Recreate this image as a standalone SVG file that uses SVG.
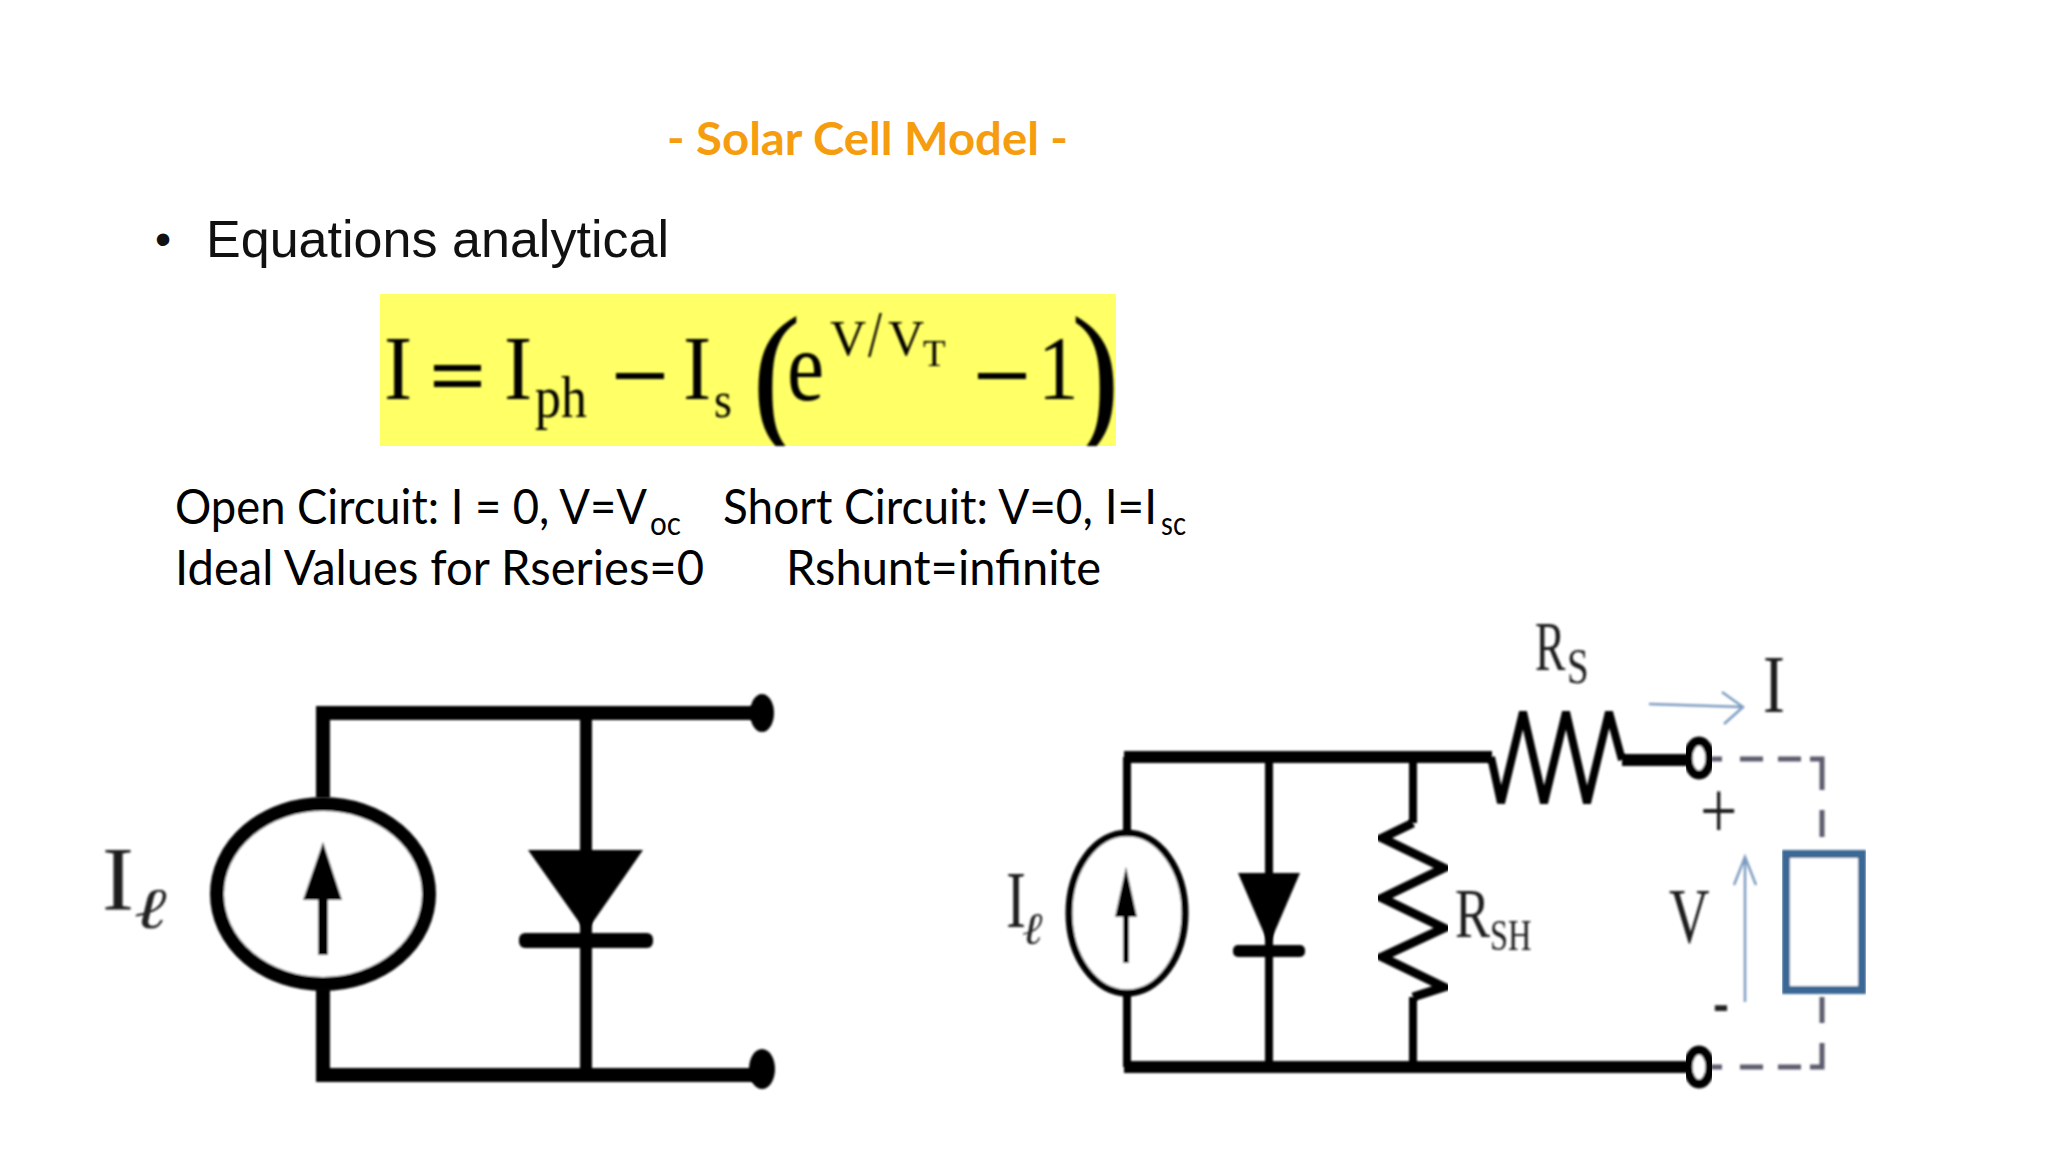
<svg xmlns="http://www.w3.org/2000/svg" width="2048" height="1152" viewBox="0 0 2048 1152">
<style>
.ca{font-family:Lato,"Open Sans",sans-serif;font-size:48px;fill:#000}
.sub{font-family:Lato,"Open Sans",sans-serif;font-size:32px;fill:#000}
.se{font-family:"Liberation Serif",serif;fill:#000}
.sc{font-family:"Liberation Serif",serif;fill:#1a1a1a}
.w{fill:none;stroke:#000;stroke-linejoin:miter}
.dash{fill:none;stroke:#5c5c6e;stroke-width:5}
.blue{fill:none;stroke:#7d9cc0;stroke-width:2.5}
</style>
<defs>
<clipPath id="eqclip"><rect x="380" y="294" width="736" height="152"/></clipPath>
<filter id="soft" x="-5%" y="-5%" width="110%" height="110%"><feGaussianBlur stdDeviation="0.8"/></filter>
</defs>
<rect width="2048" height="1152" fill="#fff"/>

<g id="title"><text x="667" y="155" textLength="401" lengthAdjust="spacingAndGlyphs" style="font-family:Lato,sans-serif;font-weight:700;font-size:46px;fill:#f59d0e">- Solar Cell Model -</text></g>

<g id="bullet">
<text x="155" y="255" style="font-family:'Liberation Sans',sans-serif;font-size:46px;fill:#111">•</text>
<text x="206" y="257" textLength="463" lengthAdjust="spacingAndGlyphs" style="font-family:'Liberation Sans',sans-serif;font-size:52px;fill:#111">Equations analytical</text>
</g>

<g id="equation">
<rect x="380" y="294" width="736" height="152" fill="#ffff66"/>
<g filter="url(#soft)">
<text class="se" transform="translate(384 399) scale(.92 1)" font-size="92">I</text>
<rect x="434" y="365" width="47" height="6"/><rect x="434" y="381" width="47" height="6"/>
<text class="se" transform="translate(504 399) scale(.92 1)" font-size="92">I</text>
<text class="se" transform="translate(535 417) scale(.96 1.1)" font-size="54">ph</text>
<rect x="616" y="373" width="48" height="6"/>
<text class="se" transform="translate(683 399) scale(.92 1)" font-size="92">I</text>
<text class="se" transform="translate(714 417) scale(1 1.1)" font-size="46">s</text>
<g clip-path="url(#eqclip)">
<text class="se" transform="translate(752 428) scale(.92 1)" font-size="160">(</text>
<text class="se" transform="translate(1071 428) scale(.92 1)" font-size="160">)</text>
</g>
<text class="se" transform="translate(787 400) scale(.95 1.12)" font-size="88">e</text>
<text class="se" transform="translate(830 355) scale(1 1.02)" font-size="50">V</text>
<text class="se" transform="translate(868 356) scale(1 1.3)" font-size="50">/</text>
<text class="se" transform="translate(888 355) scale(1 1.02)" font-size="50">V</text>
<text class="se" x="923" y="366" font-size="37">T</text>
<rect x="978" y="373" width="48" height="6"/>
<text class="se" transform="translate(1038 399) scale(.9 1)" font-size="90">1</text>
</g>
</g>

<g id="notes">
<text class="ca" x="175" y="524" textLength="472" lengthAdjust="spacingAndGlyphs">Open Circuit: I = 0, V=V</text>
<text class="sub" x="650" y="535" textLength="31" lengthAdjust="spacingAndGlyphs">oc</text>
<text class="ca" x="723" y="524" textLength="434" lengthAdjust="spacingAndGlyphs">Short Circuit: V=0, I=I</text>
<text class="sub" x="1161" y="535" textLength="25" lengthAdjust="spacingAndGlyphs">sc</text>
<text class="ca" x="175" y="585" textLength="529" lengthAdjust="spacingAndGlyphs">Ideal Values for Rseries=0</text>
<text class="ca" x="786" y="585" textLength="315" lengthAdjust="spacingAndGlyphs">Rshunt=infinite</text>
</g>

<g id="connectors" filter="url(#soft)">
<g id="left-wires">
<path class="w" stroke-width="14" d="M323 798V713H761"/>
<path class="w" stroke-width="14" d="M323 988V1075H761"/>
<path class="w" stroke-width="12" d="M586 713V1075"/>
</g>
<g id="right-wires">
<path class="w" stroke-width="8" d="M1127 835V757"/>
<path class="w" stroke-width="8" d="M1127 993V1067"/>
<path class="w" stroke-width="12" d="M1124 757H1492"/>
<path class="w" stroke-width="12" d="M1124 1067H1690"/>
<path class="w" stroke-width="8" d="M1269 757V1067"/>
<path class="w" stroke-width="8" d="M1413 757V823"/>
<path class="w" stroke-width="8" d="M1413 997V1067"/>
<path class="w" stroke-width="12" d="M1622 760H1690"/>
</g>
<g id="load-wires">
<path class="dash" d="M1711 759H1722M1740 759H1763M1778 759H1801M1810 759H1822V790M1822 810V837M1822 997V1023M1822 1043V1067H1810M1801 1067H1778M1763 1067H1740M1722 1067H1711"/>
</g>
</g>

<g id="left-source" filter="url(#soft)">
<ellipse cx="323" cy="894" rx="106" ry="90" fill="#fff" stroke="#000" stroke-width="14"/>
<path d="M323 955V890" stroke="#000" stroke-width="10" fill="none"/>
<path d="M323 842L342 900H303Z"/>
</g>
<g id="left-diode" filter="url(#soft)">
<path d="M528 850H643L586 932Z"/>
<rect x="519" y="933" width="134" height="15" rx="6"/>
</g>
<g id="left-terminals" filter="url(#soft)">
<ellipse cx="762" cy="713" rx="12" ry="19"/>
<ellipse cx="762" cy="1069" rx="13" ry="20"/>
</g>
<g id="left-label" filter="url(#soft)">
<text class="sc" transform="translate(102 910) scale(1 .95)" font-size="96">I</text>
<text transform="translate(134 928) scale(1.7 1.25)" style="font-family:'DejaVu Serif',serif;font-style:italic;font-size:46px;fill:#222">ℓ</text>
</g>

<g id="right-source" filter="url(#soft)">
<ellipse cx="1127" cy="913" rx="58" ry="80" fill="#fff" stroke="#000" stroke-width="7"/>
<path d="M1126 963V905" stroke="#000" stroke-width="6" fill="none"/>
<path d="M1126 867L1137 917H1115Z"/>
</g>
<g id="right-diode" filter="url(#soft)">
<path d="M1238 873H1300L1269 945Z"/>
<rect x="1233" y="945" width="72" height="12" rx="5"/>
</g>
<g id="rsh" filter="url(#soft)">
<path class="w" stroke-width="9" d="M1413 823L1382 838L1444 868L1382 898L1444 928L1382 957L1444 987L1413 997"/>
</g>
<g id="rs" filter="url(#soft)">
<path class="w" stroke-width="8" d="M1491 757L1501 803L1523 712L1544 803L1566 712L1587 803L1609 712L1622 760"/>
</g>
<g id="terminals" filter="url(#soft)">
<ellipse cx="1699" cy="758" rx="11" ry="17" fill="#fff" stroke="#000" stroke-width="9"/>
<ellipse cx="1699" cy="1067" rx="11" ry="17" fill="#fff" stroke="#000" stroke-width="9"/>
</g>
<g id="load" filter="url(#soft)">
<rect x="1786" y="854" width="76" height="136" fill="#fff" stroke="#3b6795" stroke-width="8"/>
</g>
<g id="current-arrow" filter="url(#soft)">
<path class="blue" d="M1649 704L1743 707M1722 692L1743 707L1724 724"/>
</g>
<g id="voltage-arrow" filter="url(#soft)">
<path class="blue" d="M1745 1002V857M1734 885L1745 857L1756 885"/>
</g>
<g id="labels" filter="url(#soft)">
<text class="sc" transform="translate(1535 670) scale(.65 1)" font-size="70">R</text>
<text class="sc" transform="translate(1567 683) scale(.78 1)" font-size="50">S</text>
<text class="sc" transform="translate(1763 712) scale(.8 1)" font-size="82">I</text>
<text class="sc" transform="translate(1006 927) scale(.75 1)" font-size="80">I</text>
<text transform="translate(1022 944) scale(1.35 1.25)" style="font-family:'DejaVu Serif',serif;font-style:italic;font-size:36px;fill:#222">ℓ</text>
<text class="sc" transform="translate(1455 937) scale(.75 1)" font-size="70">R</text>
<text class="sc" transform="translate(1490 950) scale(.72 1)" font-size="45">SH</text>
<text class="sc" transform="translate(1669 942) scale(.72 1)" font-size="78">V</text>
<text class="sc" transform="translate(1700 838) scale(.85 1.05)" font-size="78">+</text>
<text transform="translate(1713 1021)" style="font-family:'Liberation Sans',sans-serif;font-weight:700;font-size:48px;fill:#222">-</text>
</g>
</svg>
